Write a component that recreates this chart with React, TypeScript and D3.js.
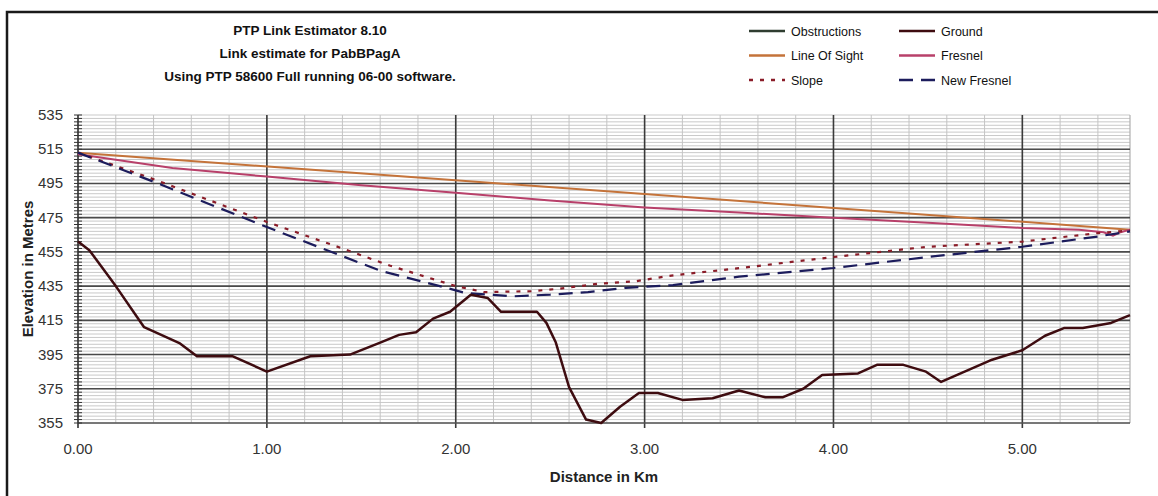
import * as d3 from 'd3'

// chart values
const titleLines = [
  'PTP Link Estimator 8.10',
  'Link estimate for PabBPagA',
  'Using PTP 58600 Full running 06-00 software.',
]

const xTicks = [0, 1, 2, 3, 4, 5]
const yTicks = [355, 375, 395, 415, 435, 455, 475, 495, 515, 535]

const groundKm = [0, 0.06, 0.2, 0.35, 0.54, 0.63, 0.82, 1.0, 1.23, 1.44, 1.6, 1.7, 1.79, 1.88, 1.97, 2.08, 2.17, 2.24, 2.43, 2.48, 2.53, 2.6, 2.69, 2.77, 2.87, 2.97, 3.07, 3.2, 3.36, 3.5, 3.64, 3.73, 3.84, 3.94, 4.13, 4.23, 4.37, 4.49, 4.57, 4.84, 5.0, 5.12, 5.22, 5.32, 5.47, 5.57]
const groundM = [461, 456, 435, 411, 401.5, 394, 394, 385, 394, 395, 402, 406.5, 408, 416, 420, 430, 428, 420, 420, 413.5, 402, 376, 357, 355, 364.5, 372.5, 372.5, 368.5, 369.5, 374, 370, 370, 375, 383, 384, 389, 389, 385, 379, 392, 397.5, 406, 410.5, 410.5, 413.5, 418]

const losKm = [0, 5.57]
const losM = [513, 468]

const fresnelKm = [0, 0.5, 1, 1.5, 2, 2.5, 3, 3.5, 4, 4.5, 5, 5.3, 5.43, 5.48, 5.52, 5.57]
const fresnelM = [512, 504, 499, 494, 489.5, 485, 481, 478, 475, 472, 469, 468, 466.5, 464.5, 466.5, 468]

const slopeKm = [0, 0.4, 1, 1.4, 1.65, 2.0, 2.15, 2.4, 2.55, 2.75, 2.95, 3.13, 3.5, 4, 4.5, 5, 5.4, 5.57]
const slopeM = [513, 497.5, 472.5, 457, 447, 435, 431.5, 432, 433.5, 436.3, 437.8, 441, 445.5, 452, 458, 461, 466, 467.5]

const newFresnelKm = [0, 0.4, 1, 1.6, 1.95, 2.05, 2.3, 2.5, 2.7, 2.9, 3.15, 3.5, 4, 4.5, 5, 5.4, 5.57]
const newFresnelM = [513, 496, 469.5, 444, 434, 431, 429, 430, 431.5, 434, 435.6, 440.5, 445.6, 452, 458, 464, 467]

const legendItems = [
  { name: 'Obstructions', color: '#2f3d30', dash: null },
  { name: 'Ground', color: '#3e0c10', dash: null },
  { name: 'Line Of Sight', color: '#c4733a', dash: null },
  { name: 'Fresnel', color: '#b8406a', dash: null },
  { name: 'Slope', color: '#8a1c28', dash: '4,7' },
  { name: 'New Fresnel', color: '#1c1c5c', dash: '14,8' },
]

const W = 1158
const H = 496
const font = '"Liberation Sans", Arial, sans-serif'

export default function App() {
  const x = d3.scaleLinear().domain([0, 5.57]).range([78, 1130])
  const y = d3.scaleLinear().domain([355, 535]).range([423, 115])

  const line = (xs: number[], ys: number[]) =>
    d3.line<number>().x((_, i) => x(xs[i])).y(v => y(v))(ys) || ''

  const minorY = d3.range(355, 536, 2)
  const minorX = d3.range(0, 5.57, 0.2)

  return (
    <svg width={W} height={H} style={{ position: 'absolute', left: 0, top: 0, background: '#fff' }}>
      {/* outer frame */}
      <rect x={7} y={12} width={1200} height={520} fill="none" stroke="#1a1a1a" strokeWidth={2.5} />

      {/* titles */}
      {titleLines.map((t, i) => (
        <text key={t} x={310} y={35 + i * 23} textAnchor="middle" fontFamily={font}
          fontWeight="bold" fontSize={13.5} fill="#111">{t}</text>
      ))}

      {/* legend */}
      {legendItems.map((d, i) => {
        const lx = i % 2 === 0 ? 749 : 899
        const ly = 31 + Math.floor(i / 2) * 24.5
        return (
          <g key={d.name}>
            <line x1={lx} x2={lx + 36} y1={ly} y2={ly} stroke={d.color} strokeWidth={2.5}
              strokeDasharray={d.dash || undefined} />
            <text x={lx + 42} y={ly + 4.5} fontFamily={font} fontSize={12.5} fill="#111">{d.name}</text>
          </g>
        )
      })}

      {/* minor grid */}
      {minorY.map(v => (
        <line key={'my' + v} x1={x(0)} x2={x(5.57)} y1={y(v)} y2={y(v)} stroke="#c9c9c9" strokeWidth={1} />
      ))}
      {minorX.map(v => (
        <line key={'mx' + v} x1={x(v)} x2={x(v)} y1={y(535)} y2={y(355)} stroke="#c4c4c4" strokeWidth={1} />
      ))}
      <line x1={x(5.57)} x2={x(5.57)} y1={y(535)} y2={y(355)} stroke="#b0b0b0" strokeWidth={1.2} />

      {/* major grid */}
      {yTicks.filter(v => v > 355 && v < 535).map(v => (
        <line key={'gy' + v} x1={x(0)} x2={x(5.57)} y1={y(v)} y2={y(v)} stroke="#4a4a4a" strokeWidth={1.6} />
      ))}
      {xTicks.filter(v => v > 0).map(v => (
        <line key={'gx' + v} x1={x(v)} x2={x(v)} y1={y(535)} y2={y(355) + 5} stroke="#3a3a3a" strokeWidth={1.6} />
      ))}

      {/* axes */}
      <line x1={x(0)} x2={x(5.57)} y1={y(355)} y2={y(355)} stroke="#555" strokeWidth={1.6} />
      <line x1={x(0)} x2={x(0)} y1={y(535)} y2={y(355) + 5} stroke="#333" strokeWidth={1.6} />
      {minorY.map(v => (
        <line key={'ty' + v} x1={x(0) - 4} x2={x(0) + 4} y1={y(v)} y2={y(v)} stroke="#333" strokeWidth={1} />
      ))}

      {/* tick labels */}
      {yTicks.map(v => (
        <text key={'ly' + v} x={63} y={y(v) + 5} textAnchor="end" fontFamily={font} fontSize={15} fill="#333">{v}</text>
      ))}
      {xTicks.map(v => (
        <text key={'lx' + v} x={x(v)} y={454} textAnchor="middle" fontFamily={font} fontSize={15} fill="#333">
          {d3.format('.2f')(v)}
        </text>
      ))}

      {/* axis titles */}
      <text transform={`translate(33, ${(y(535) + y(355)) / 2}) rotate(-90)`} textAnchor="middle"
        fontFamily={font} fontWeight="bold" fontSize={15} fill="#222">Elevation in Metres</text>
      <text x={(x(0) + x(5.57)) / 2} y={482} textAnchor="middle" fontFamily={font} fontWeight="bold"
        fontSize={15} fill="#222">Distance in Km</text>

      {/* series */}
      <path d={line(losKm, losM)} fill="none" stroke="#c4733a" strokeWidth={2} />
      <path d={line(fresnelKm, fresnelM)} fill="none" stroke="#b8406a" strokeWidth={2} />
      <path d={line(slopeKm, slopeM)} fill="none" stroke="#8a1c28" strokeWidth={2.2} strokeDasharray="4,7" />
      <path d={line(newFresnelKm, newFresnelM)} fill="none" stroke="#1c1c5c" strokeWidth={2.2} strokeDasharray="14,8" />
      <path d={line(groundKm, groundM)} fill="none" stroke="#3e0c10" strokeWidth={2.5} strokeLinejoin="round" />
    </svg>
  )
}
